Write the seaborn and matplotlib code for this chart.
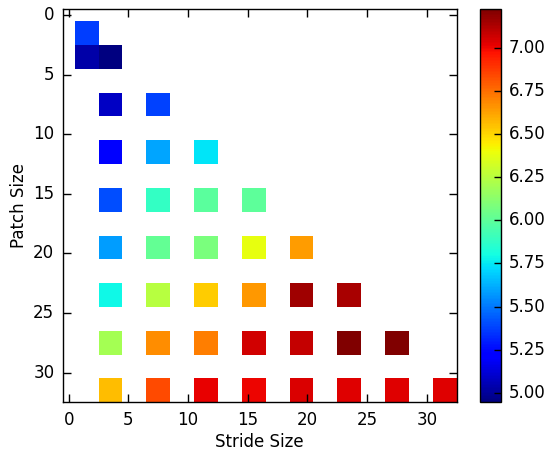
import numpy as np
import pandas as pd
import matplotlib
matplotlib.use("Agg")
import matplotlib.pyplot as plt
from matplotlib.ticker import FormatStrFormatter
import seaborn as sns

# ---- data ----
patch_sizes = [2, 4, 8, 12, 16, 20, 24, 28, 32]
stride_lists = [
    [2],
    [2, 4],
    [4, 8],
    [4, 8, 12],
    [4, 8, 12, 16],
    [4, 8, 12, 16, 20],
    [4, 8, 12, 16, 20, 24],
    [4, 8, 12, 16, 20, 24, 28],
    [4, 8, 12, 16, 20, 24, 28, 32],
]
value_lists = [
    [5.37],
    [5.03, 4.944],
    [5.08, 5.38],
    [5.20, 5.60, 5.74],
    [5.40, 5.88, 5.99, 6.00],
    [5.58, 6.02, 6.08, 6.38, 6.64],
    [5.79, 6.25, 6.53, 6.65, 7.16, 7.14],
    [6.20, 6.68, 6.71, 7.06, 7.09, 7.226, 7.22],
    [6.56, 6.84, 7.02, 7.01, 7.04, 7.03, 7.03, 7.03],
]
axis_ticks = [0, 5, 10, 15, 20, 25, 30]
cbar_ticks = [5.00, 5.25, 5.50, 5.75, 6.00, 6.25, 6.50, 6.75, 7.00]

n = 33
grid = np.full((n, n), np.nan)
for p, strides, vals in zip(patch_sizes, stride_lists, value_lists):
    for s, v in zip(strides, vals):
        grid[p - 1:p + 1, s - 1:s + 1] = v
df = pd.DataFrame(grid)

plt.style.use("classic")
fig = plt.figure(figsize=(5.48, 4.5), dpi=100, facecolor="white")
W, H = 548, 450
ax = fig.add_axes([62.7 / W, (H - 402.3) / H, 394 / W, 393 / H])
cax = fig.add_axes([480 / W, (H - 402.3) / H, 20.7 / W, 393 / H])

allvals = np.concatenate([np.array(v) for v in value_lists])
sns.heatmap(df, ax=ax, cbar_ax=cax, cmap="jet",
            vmin=allvals.min(), vmax=allvals.max(),
            xticklabels=False, yticklabels=False)

ax.set_xlim(0, n)
ax.set_ylim(n, 0)
ax.set_facecolor("white")
for sp in ax.spines.values():
    sp.set_visible(True)
    sp.set_linewidth(1.0)
    sp.set_color("black")

pos = [t + 0.5 for t in axis_ticks]
ax.set_xticks(pos)
ax.set_xticklabels([str(t) for t in axis_ticks], rotation=0, fontsize=12)
ax.set_yticks(pos)
ax.set_yticklabels([str(t) for t in axis_ticks], rotation=0, fontsize=12)
ax.tick_params(direction="in", top=True, right=True, bottom=True, left=True,
               length=6, width=1, pad=6)
ax.set_xlabel("Stride Size", fontsize=12, labelpad=3)
ax.set_ylabel("Patch Size", fontsize=12, labelpad=4)

cb = ax.collections[0].colorbar
cb.outline.set_linewidth(1.0)
cb.outline.set_edgecolor("black")
cb.set_ticks(cbar_ticks)
cax.yaxis.set_major_formatter(FormatStrFormatter("%.2f"))
cax.tick_params(direction="in", length=5, width=1, labelsize=12, pad=6)

fig.savefig("out.png", dpi=100, facecolor="white")
